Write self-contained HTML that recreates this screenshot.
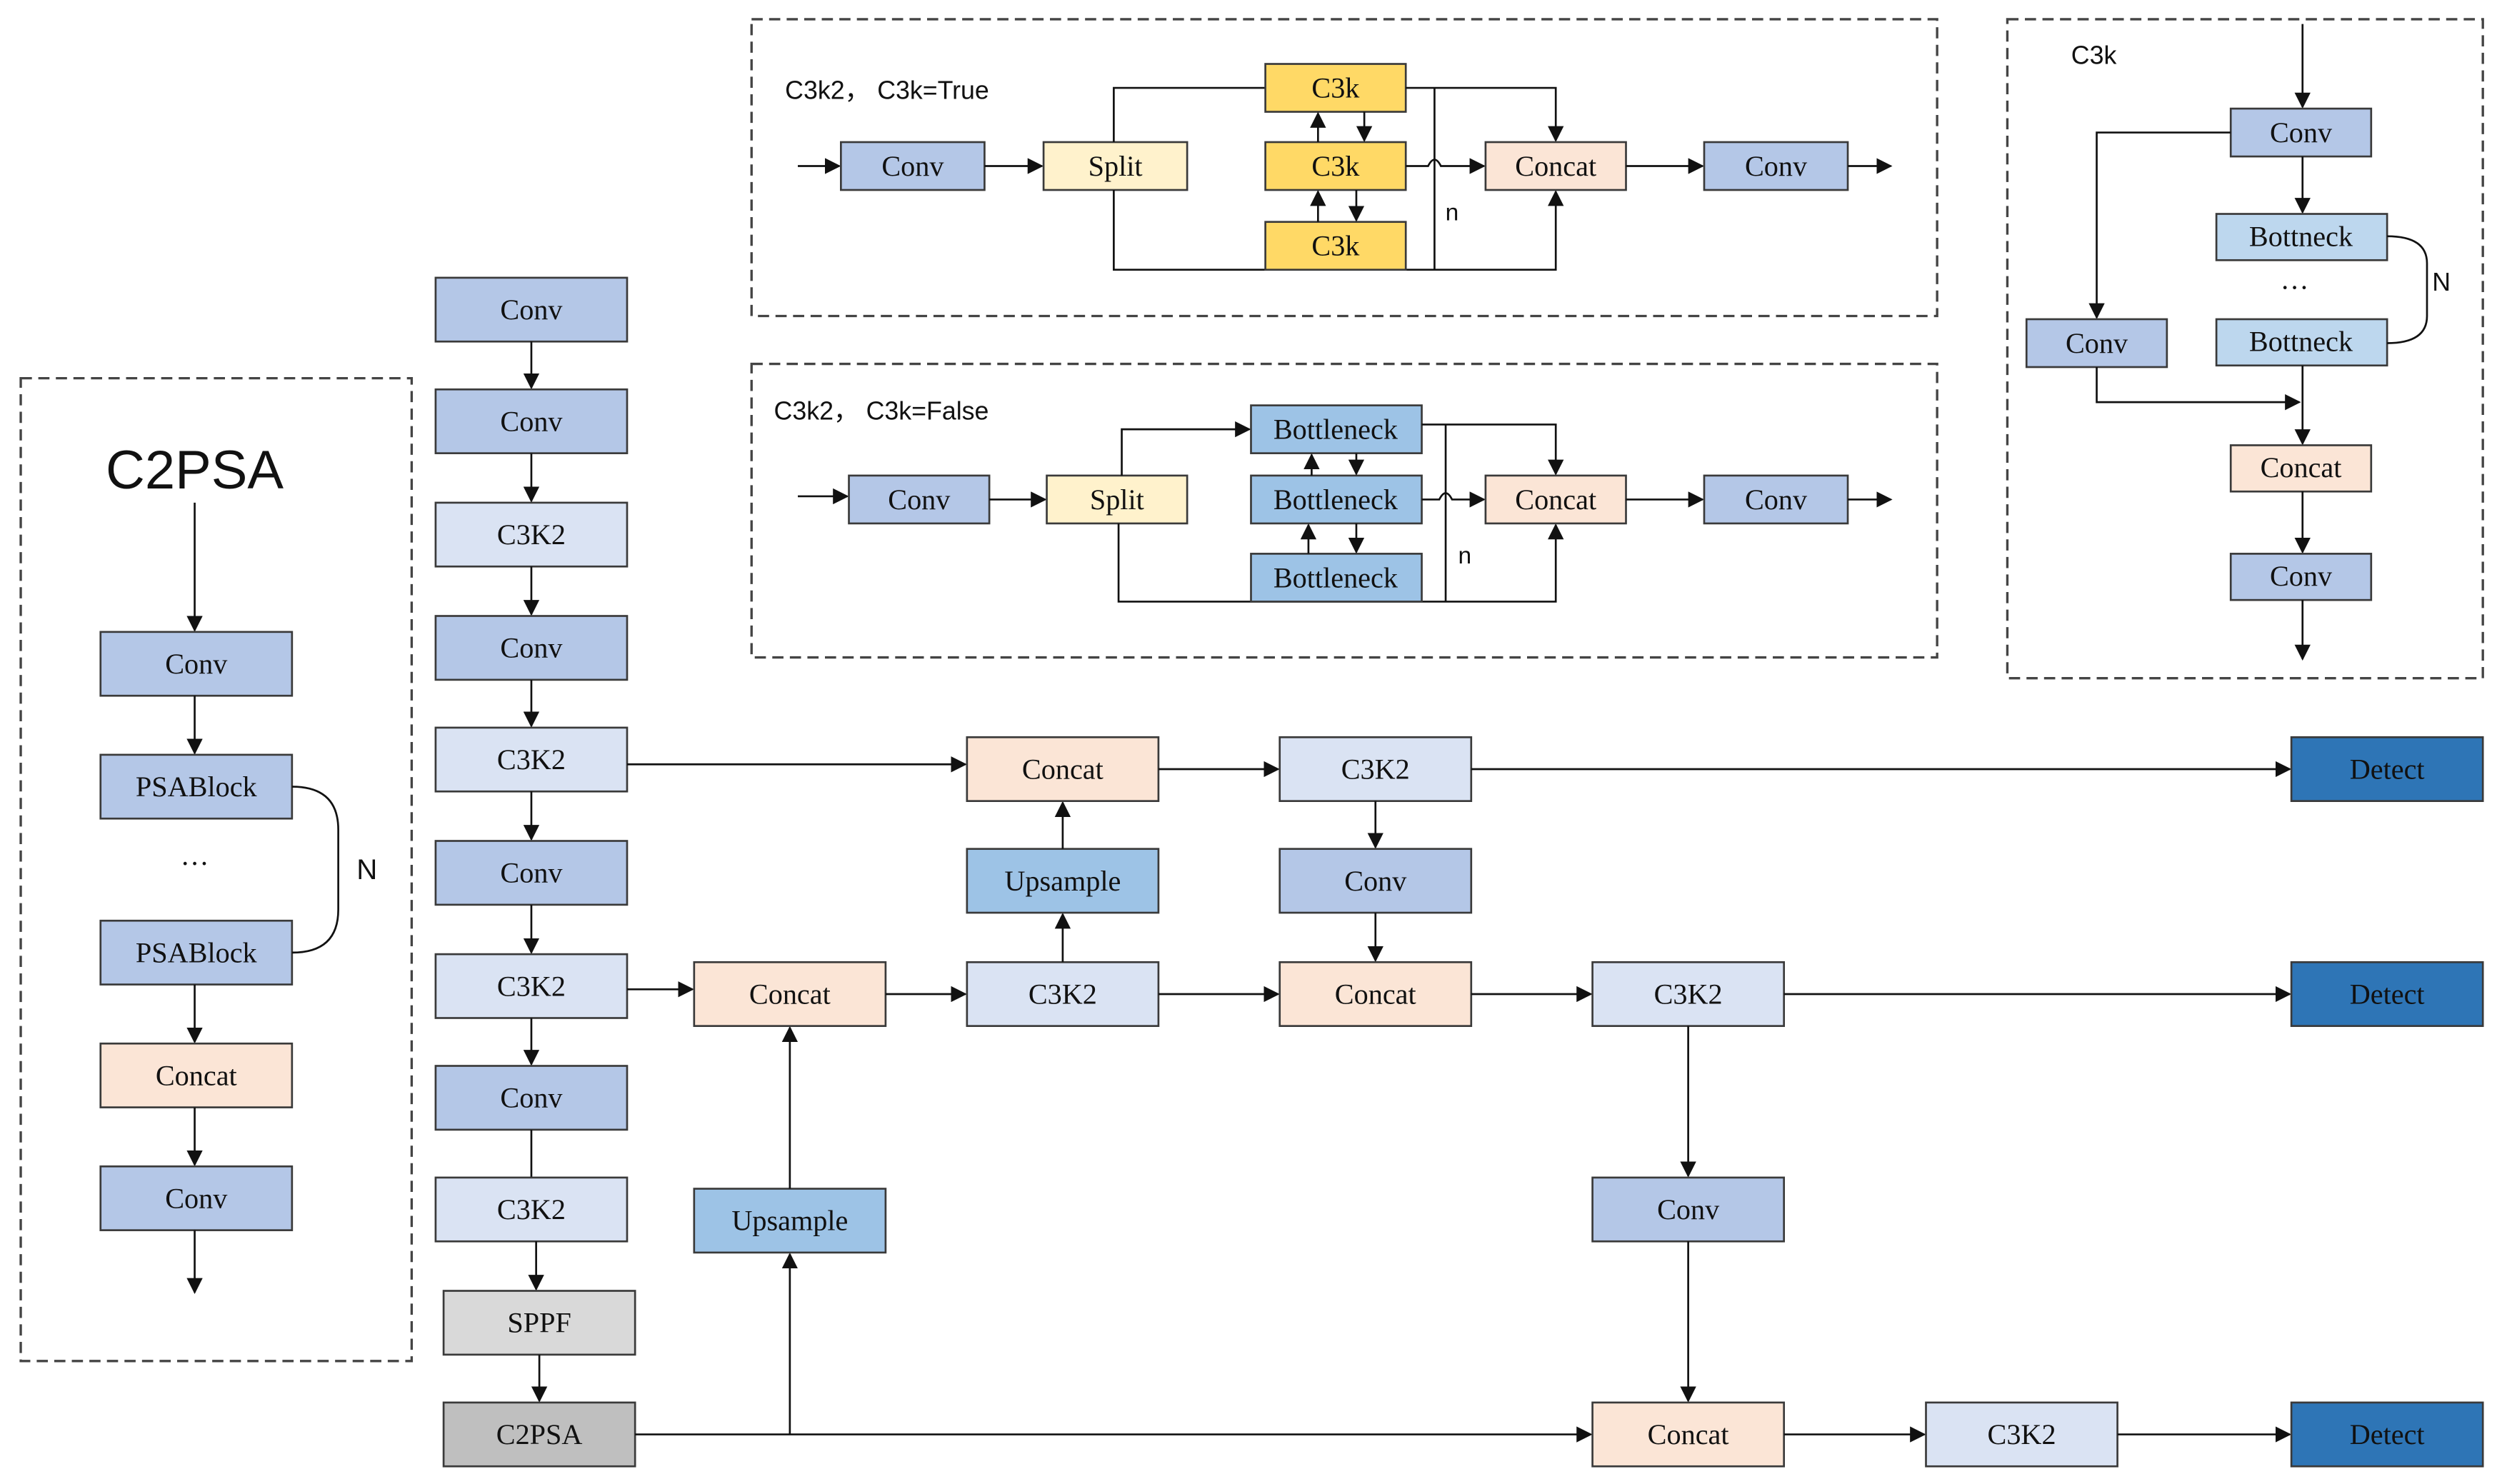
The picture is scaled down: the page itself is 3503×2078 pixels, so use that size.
<!DOCTYPE html>
<html><head><meta charset="utf-8"><style>
html,body{margin:0;padding:0;background:#fff;}
svg{display:block;}
.b{stroke:#3a3a3a;stroke-width:1.2;}
.t{font-family:"Liberation Serif",serif;font-size:18px;fill:#111;text-anchor:middle;dominant-baseline:central;}
.s{font-family:"Liberation Sans",sans-serif;fill:#111;}
.l{stroke:#111;stroke-width:1.2;fill:none;}
.d{stroke:#444;stroke-width:1.5;fill:none;stroke-dasharray:7 4;}
</style></head><body>
<svg width="3503" height="2078" viewBox="0 0 1568 930" xmlns="http://www.w3.org/2000/svg">
<defs><marker id="a" markerWidth="10" markerHeight="10" refX="9" refY="5" orient="auto" markerUnits="userSpaceOnUse"><path d="M0,0 L10,5 L0,10 z" fill="#111"/></marker></defs>
<rect width="1568" height="930" fill="#fff"/>

<!-- dashed boxes -->
<rect class="d" x="13" y="237" width="245" height="616"/>
<rect class="d" x="471" y="12" width="743" height="186"/>
<rect class="d" x="471" y="228" width="743" height="184"/>
<rect class="d" x="1258" y="12" width="298" height="413"/>

<!-- C2PSA panel -->
<text class="s" x="122" y="306" font-size="34" text-anchor="middle">C2PSA</text>
<path class="l" d="M122,315 V395" marker-end="url(#a)"/>
<rect class="b" x="63" y="396" width="120" height="40" fill="#b4c7e7"/><text class="t" x="123" y="416">Conv</text>
<path class="l" d="M122,436 V472" marker-end="url(#a)"/>
<rect class="b" x="63" y="473" width="120" height="40" fill="#b4c7e7"/><text class="t" x="123" y="493">PSABlock</text>
<text class="t" x="122" y="541">···</text>
<rect class="b" x="63" y="577" width="120" height="40" fill="#b4c7e7"/><text class="t" x="123" y="597">PSABlock</text>
<path class="l" d="M183,493 Q212,493 212,520 V570 Q212,597 183,597"/>
<text class="s" x="230" y="551" font-size="18" text-anchor="middle">N</text>
<path class="l" d="M122,617 V653" marker-end="url(#a)"/>
<rect class="b" x="63" y="654" width="120" height="40" fill="#fbe5d6"/><text class="t" x="123" y="674">Concat</text>
<path class="l" d="M122,694 V730" marker-end="url(#a)"/>
<rect class="b" x="63" y="731" width="120" height="40" fill="#b4c7e7"/><text class="t" x="123" y="751">Conv</text>
<path class="l" d="M122,771 V810" marker-end="url(#a)"/>

<!-- backbone -->
<rect class="b" x="273" y="174" width="120" height="40" fill="#b4c7e7"/><text class="t" x="333" y="194">Conv</text>
<path class="l" d="M333,214 V243" marker-end="url(#a)"/>
<rect class="b" x="273" y="244" width="120" height="40" fill="#b4c7e7"/><text class="t" x="333" y="264">Conv</text>
<path class="l" d="M333,284 V314" marker-end="url(#a)"/>
<rect class="b" x="273" y="315" width="120" height="40" fill="#dae3f3"/><text class="t" x="333" y="335">C3K2</text>
<path class="l" d="M333,355 V385" marker-end="url(#a)"/>
<rect class="b" x="273" y="386" width="120" height="40" fill="#b4c7e7"/><text class="t" x="333" y="406">Conv</text>
<path class="l" d="M333,426 V455" marker-end="url(#a)"/>
<rect class="b" x="273" y="456" width="120" height="40" fill="#dae3f3"/><text class="t" x="333" y="476">C3K2</text>
<path class="l" d="M333,496 V526" marker-end="url(#a)"/>
<rect class="b" x="273" y="527" width="120" height="40" fill="#b4c7e7"/><text class="t" x="333" y="547">Conv</text>
<path class="l" d="M333,567 V597" marker-end="url(#a)"/>
<rect class="b" x="273" y="598" width="120" height="40" fill="#dae3f3"/><text class="t" x="333" y="618">C3K2</text>
<path class="l" d="M333,638 V667" marker-end="url(#a)"/>
<rect class="b" x="273" y="668" width="120" height="40" fill="#b4c7e7"/><text class="t" x="333" y="688">Conv</text>
<path class="l" d="M333,708 V738"/>
<rect class="b" x="273" y="738" width="120" height="40" fill="#dae3f3"/><text class="t" x="333" y="758">C3K2</text>
<path class="l" d="M336,778 V808" marker-end="url(#a)"/>
<rect class="b" x="278" y="809" width="120" height="40" fill="#d9d9d9"/><text class="t" x="338" y="829">SPPF</text>
<path class="l" d="M338,849 V878" marker-end="url(#a)"/>
<rect class="b" x="278" y="879" width="120" height="40" fill="#bfbfbf"/><text class="t" x="338" y="899">C2PSA</text>

<!-- neck -->
<path class="l" d="M398,899 H997" marker-end="url(#a)"/>
<path class="l" d="M495,899 V786" marker-end="url(#a)"/>
<rect class="b" x="435" y="745" width="120" height="40" fill="#9dc3e6"/><text class="t" x="495" y="765">Upsample</text>
<path class="l" d="M495,745 V644" marker-end="url(#a)"/>
<path class="l" d="M393,620 H434" marker-end="url(#a)"/>
<rect class="b" x="435" y="603" width="120" height="40" fill="#fbe5d6"/><text class="t" x="495" y="623">Concat</text>
<path class="l" d="M555,623 H605" marker-end="url(#a)"/>
<rect class="b" x="606" y="603" width="120" height="40" fill="#dae3f3"/><text class="t" x="666" y="623">C3K2</text>
<path class="l" d="M666,603 V573" marker-end="url(#a)"/>
<rect class="b" x="606" y="532" width="120" height="40" fill="#9dc3e6"/><text class="t" x="666" y="552">Upsample</text>
<path class="l" d="M666,532 V503" marker-end="url(#a)"/>
<path class="l" d="M393,479 H605" marker-end="url(#a)"/>
<rect class="b" x="606" y="462" width="120" height="40" fill="#fbe5d6"/><text class="t" x="666" y="482">Concat</text>
<path class="l" d="M726,482 H801" marker-end="url(#a)"/>
<rect class="b" x="802" y="462" width="120" height="40" fill="#dae3f3"/><text class="t" x="862" y="482">C3K2</text>
<path class="l" d="M922,482 H1435" marker-end="url(#a)"/>
<rect class="b" x="1436" y="462" width="120" height="40" fill="#2e75b6"/><text class="t" x="1496" y="482">Detect</text>
<path class="l" d="M862,502 V531" marker-end="url(#a)"/>
<rect class="b" x="802" y="532" width="120" height="40" fill="#b4c7e7"/><text class="t" x="862" y="552">Conv</text>
<path class="l" d="M862,572 V602" marker-end="url(#a)"/>
<path class="l" d="M726,623 H801" marker-end="url(#a)"/>
<rect class="b" x="802" y="603" width="120" height="40" fill="#fbe5d6"/><text class="t" x="862" y="623">Concat</text>
<path class="l" d="M922,623 H997" marker-end="url(#a)"/>
<rect class="b" x="998" y="603" width="120" height="40" fill="#dae3f3"/><text class="t" x="1058" y="623">C3K2</text>
<path class="l" d="M1118,623 H1435" marker-end="url(#a)"/>
<rect class="b" x="1436" y="603" width="120" height="40" fill="#2e75b6"/><text class="t" x="1496" y="623">Detect</text>
<path class="l" d="M1058,643 V737" marker-end="url(#a)"/>
<rect class="b" x="998" y="738" width="120" height="40" fill="#b4c7e7"/><text class="t" x="1058" y="758">Conv</text>
<path class="l" d="M1058,778 V878" marker-end="url(#a)"/>
<rect class="b" x="998" y="879" width="120" height="40" fill="#fbe5d6"/><text class="t" x="1058" y="899">Concat</text>
<path class="l" d="M1118,899 H1206" marker-end="url(#a)"/>
<rect class="b" x="1207" y="879" width="120" height="40" fill="#dae3f3"/><text class="t" x="1267" y="899">C3K2</text>
<path class="l" d="M1327,899 H1435" marker-end="url(#a)"/>
<rect class="b" x="1436" y="879" width="120" height="40" fill="#2e75b6"/><text class="t" x="1496" y="899">Detect</text>

<!-- Box 1: C3k=True -->
<text class="s" x="492" y="62" font-size="16">C3k2， C3k=True</text>
<path class="l" d="M500,104 H526" marker-end="url(#a)"/>
<rect class="b" x="527" y="89" width="90" height="30" fill="#b4c7e7"/><text class="t" x="572" y="104">Conv</text>
<path class="l" d="M617,104 H653" marker-end="url(#a)"/>
<rect class="b" x="654" y="89" width="90" height="30" fill="#fff2cc"/><text class="t" x="699" y="104">Split</text>
<path class="l" d="M698,89 V55 H793"/>
<path class="l" d="M698,119 V169 H975 V120" marker-end="url(#a)"/>
<rect class="b" x="793" y="40" width="88" height="30" fill="#ffd966"/><text class="t" x="837" y="55">C3k</text>
<rect class="b" x="793" y="89" width="88" height="30" fill="#ffd966"/><text class="t" x="837" y="104">C3k</text>
<rect class="b" x="793" y="139" width="88" height="30" fill="#ffd966"/><text class="t" x="837" y="154">C3k</text>
<path class="l" d="M826,89 V71" marker-end="url(#a)"/>
<path class="l" d="M855,70 V88" marker-end="url(#a)"/>
<path class="l" d="M826,139 V120" marker-end="url(#a)"/>
<path class="l" d="M850,119 V138" marker-end="url(#a)"/>
<path class="l" d="M881,55 H975 V88" marker-end="url(#a)"/>
<path class="l" d="M899,55 V169"/>
<path class="l" d="M881,104 H895 Q899,96 903,104 H930" marker-end="url(#a)"/>
<text class="s" x="910" y="138" font-size="15" text-anchor="middle">n</text>
<rect class="b" x="931" y="89" width="88" height="30" fill="#fbe5d6"/><text class="t" x="975" y="104">Concat</text>
<path class="l" d="M1019,104 H1067" marker-end="url(#a)"/>
<rect class="b" x="1068" y="89" width="90" height="30" fill="#b4c7e7"/><text class="t" x="1113" y="104">Conv</text>
<path class="l" d="M1158,104 H1185" marker-end="url(#a)"/>

<!-- Box 2: C3k=False -->
<text class="s" x="485" y="263" font-size="16">C3k2， C3k=False</text>
<path class="l" d="M500,311 H531" marker-end="url(#a)"/>
<rect class="b" x="532" y="298" width="88" height="30" fill="#b4c7e7"/><text class="t" x="576" y="313">Conv</text>
<path class="l" d="M620,313 H655" marker-end="url(#a)"/>
<rect class="b" x="656" y="298" width="88" height="30" fill="#fff2cc"/><text class="t" x="700" y="313">Split</text>
<path class="l" d="M703,298 V269 H783" marker-end="url(#a)"/>
<path class="l" d="M701,328 V377 H975 V329" marker-end="url(#a)"/>
<rect class="b" x="784" y="254" width="107" height="30" fill="#9dc3e6"/><text class="t" x="837" y="269">Bottleneck</text>
<rect class="b" x="784" y="298" width="107" height="30" fill="#9dc3e6"/><text class="t" x="837" y="313">Bottleneck</text>
<rect class="b" x="784" y="347" width="107" height="30" fill="#9dc3e6"/><text class="t" x="837" y="362">Bottleneck</text>
<path class="l" d="M822,298 V285" marker-end="url(#a)"/>
<path class="l" d="M850,284 V297" marker-end="url(#a)"/>
<path class="l" d="M820,347 V329" marker-end="url(#a)"/>
<path class="l" d="M850,328 V346" marker-end="url(#a)"/>
<path class="l" d="M891,266 H975 V297" marker-end="url(#a)"/>
<path class="l" d="M906,266 V377"/>
<path class="l" d="M891,313 H902 Q906,305 910,313 H930" marker-end="url(#a)"/>
<text class="s" x="918" y="353" font-size="15" text-anchor="middle">n</text>
<rect class="b" x="931" y="298" width="88" height="30" fill="#fbe5d6"/><text class="t" x="975" y="313">Concat</text>
<path class="l" d="M1019,313 H1067" marker-end="url(#a)"/>
<rect class="b" x="1068" y="298" width="90" height="30" fill="#b4c7e7"/><text class="t" x="1113" y="313">Conv</text>
<path class="l" d="M1158,313 H1185" marker-end="url(#a)"/>

<!-- Box 3: C3k -->
<text class="s" x="1298" y="40" font-size="16">C3k</text>
<path class="l" d="M1443,15 V67" marker-end="url(#a)"/>
<rect class="b" x="1398" y="68" width="88" height="30" fill="#b4c7e7"/><text class="t" x="1442" y="83">Conv</text>
<path class="l" d="M1443,98 V133" marker-end="url(#a)"/>
<rect class="b" x="1389" y="134" width="107" height="29" fill="#bdd7ee"/><text class="t" x="1442" y="148">Bottneck</text>
<text class="t" x="1438" y="180">···</text>
<rect class="b" x="1389" y="200" width="107" height="29" fill="#bdd7ee"/><text class="t" x="1442" y="214">Bottneck</text>
<path class="l" d="M1496,148 Q1521,148 1521,165 V198 Q1521,215 1496,215"/>
<text class="s" x="1530" y="182" font-size="16" text-anchor="middle">N</text>
<path class="l" d="M1398,83 H1314 V199" marker-end="url(#a)"/>
<rect class="b" x="1270" y="200" width="88" height="30" fill="#b4c7e7"/><text class="t" x="1314" y="215">Conv</text>
<path class="l" d="M1314,230 V252 H1441" marker-end="url(#a)"/>
<path class="l" d="M1443,229 V278" marker-end="url(#a)"/>
<rect class="b" x="1398" y="279" width="88" height="29" fill="#fbe5d6"/><text class="t" x="1442" y="293">Concat</text>
<path class="l" d="M1443,308 V346" marker-end="url(#a)"/>
<rect class="b" x="1398" y="347" width="88" height="29" fill="#b4c7e7"/><text class="t" x="1442" y="361">Conv</text>
<path class="l" d="M1443,376 V413" marker-end="url(#a)"/>
</svg>
</body></html>
